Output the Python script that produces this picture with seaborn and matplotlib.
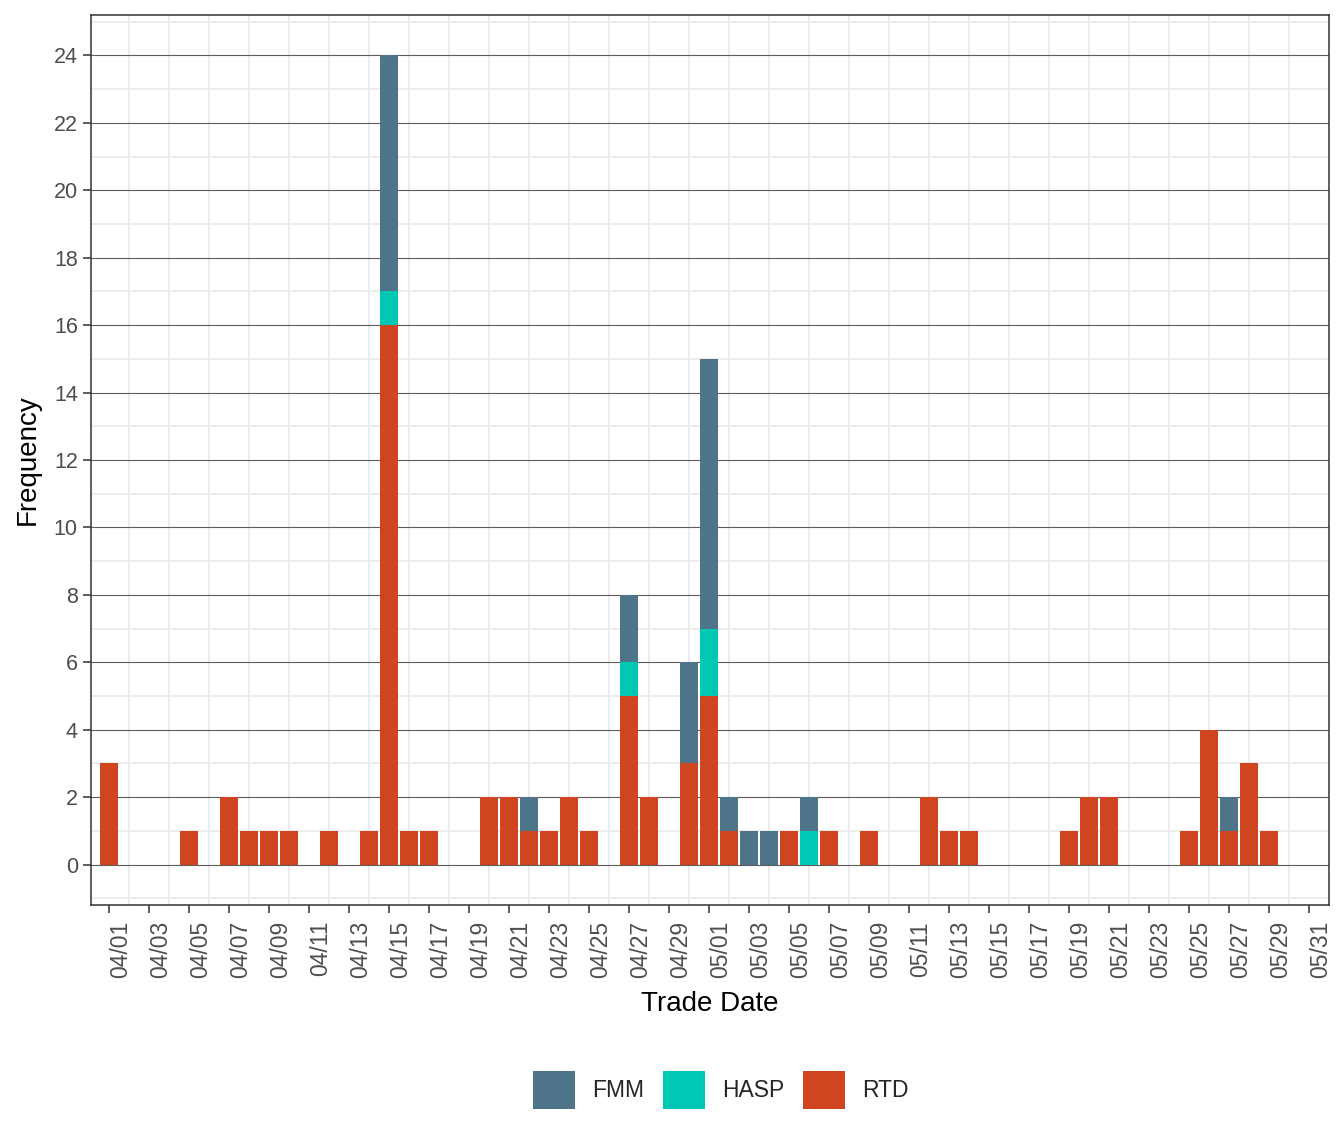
import matplotlib
matplotlib.use("Agg")
import matplotlib.pyplot as plt
from matplotlib.patches import Patch
import seaborn as sns
import pandas as pd

# trade dates (MM/DD) with counts per market type
trade_dates = ["04/01", "04/05", "04/07", "04/08", "04/09", "04/10", "04/12", "04/14", "04/15", "04/16",
               "04/17", "04/20", "04/21", "04/22", "04/23", "04/24", "04/25", "04/27", "04/28", "04/30",
               "05/01", "05/02", "05/03", "05/04", "05/05", "05/06", "05/07", "05/09", "05/12", "05/13",
               "05/14", "05/19", "05/20", "05/21", "05/25", "05/26", "05/27", "05/28", "05/29"]
rtd = [3, 1, 2, 1, 1, 1, 1, 1, 16, 1,
       1, 2, 2, 1, 1, 2, 1, 5, 2, 3,
       5, 1, 0, 0, 1, 0, 1, 1, 2, 1,
       1, 1, 2, 2, 1, 4, 1, 3, 1]
hasp = [0, 0, 0, 0, 0, 0, 0, 0, 1, 0,
        0, 0, 0, 0, 0, 0, 0, 1, 0, 0,
        2, 0, 0, 0, 0, 1, 0, 0, 0, 0,
        0, 0, 0, 0, 0, 0, 0, 0, 0]
fmm = [0, 0, 0, 0, 0, 0, 0, 0, 7, 0,
       0, 0, 0, 1, 0, 0, 0, 2, 0, 3,
       8, 1, 1, 1, 0, 1, 0, 0, 0, 0,
       0, 0, 0, 0, 0, 0, 1, 0, 0]

types = ["FMM", "HASP", "RTD"]
colors = {"FMM": "#4E7489", "HASP": "#00C8B4", "RTD": "#CF4520"}

start = pd.Timestamp("2021-04-01")
end = pd.Timestamp("2021-05-31")

rows = []
for d, f, h, r in zip(trade_dates, fmm, hasp, rtd):
    day = (pd.Timestamp("2021/" + d) - start).days
    for t, v in zip(types, [f, h, r]):
        rows.append({"day": day, "type": t, "count": v})
df = pd.DataFrame(rows)

sns.set_style("white")
plt.rcParams["font.family"] = ["Liberation Sans", "DejaVu Sans"]

fig = plt.figure(figsize=(13.44, 11.42), dpi=100)
ax = fig.add_axes([91 / 1344, 237 / 1142, 1238 / 1344, 890 / 1142])

sns.histplot(data=df, x="day", weights="count", hue="type", hue_order=types,
             palette=colors, multiple="stack", discrete=True, shrink=0.9,
             linewidth=0, alpha=1, legend=False, ax=ax)

ndays = (end - start).days
ax.set_xlim(-0.9, ndays + 1.0)
ax.set_ylim(-1.2, 25.2)

tick_days = list(range(0, ndays + 1, 2))
tick_labels = pd.date_range(start, end, freq="2D").strftime("%m/%d")
ax.set_xticks(tick_days)
ax.set_xticklabels(tick_labels, rotation=90, ha="left", va="top")
ax.set_xticks(list(range(1, ndays, 2)), minor=True)
ax.set_yticks(list(range(0, 25, 2)))
ax.set_yticks(list(range(-1, 26, 2)), minor=True)

ax.set_axisbelow(True)
ax.grid(which="minor", axis="both", color="#EBEBEB", linewidth=1.3)
ax.grid(which="major", axis="y", color="#5C5C5C", linewidth=0.8)
ax.grid(which="major", axis="x", visible=False)

ax.tick_params(which="major", length=5.5, width=1.1, color="#333333",
               labelcolor="#4D4D4D", pad=4, bottom=True, left=True)
ax.tick_params(axis="x", which="major", labelsize=16.5, pad=6)
ax.tick_params(axis="y", which="major", labelsize=15.5)
ax.tick_params(which="minor", length=0)
for s in ax.spines.values():
    s.set_color("#333333")
    s.set_linewidth(1.1)

ax.set_xlabel("Trade Date", fontsize=20, color="black", labelpad=9)
ax.set_ylabel("Frequency", fontsize=20, color="black", labelpad=9)

handles = [Patch(facecolor=colors[t], edgecolor="none", label=t) for t in types]
fig.legend(handles=handles, loc="center", bbox_to_anchor=(721 / 1344, 52 / 1142), ncol=3,
           frameon=False, fontsize=16.5, handlelength=1.85, handleheight=2.2,
           handletextpad=0.75, columnspacing=0.8)

fig.savefig("out.png", dpi=100)
